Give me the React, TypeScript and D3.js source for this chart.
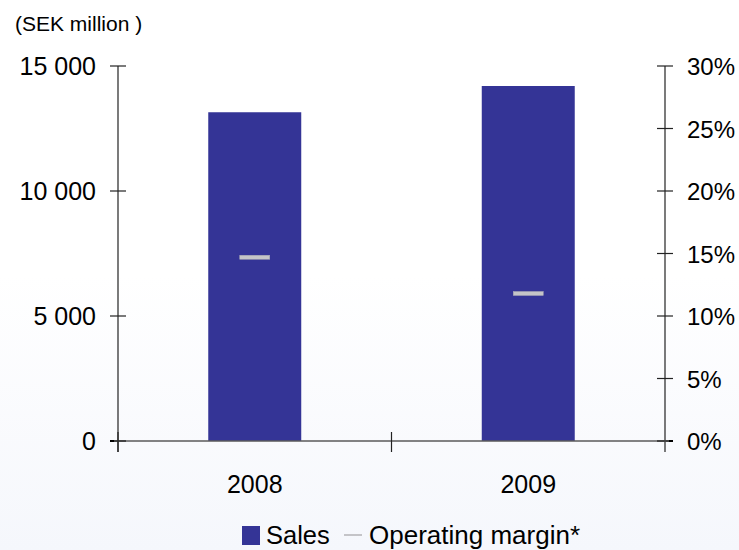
import * as d3 from "d3"

const years = ["2008", "2009"]
const sales = [13150, 14200]
const operatingMargin = [14.7, 11.8]
const salesTicks = [0, 5000, 10000, 15000]
const marginTicks = [0, 5, 10, 15, 20, 25, 30]

const W = 739
const H = 550
const margin = { top: 66, right: 75, bottom: 109, left: 118 }

const fmtSek = (v: number) => d3.format(",")(v).replace(/,/g, " ")

export default function App() {
  const x = d3.scaleBand()
    .domain(years)
    .range([margin.left, W - margin.right + 1])
    .paddingInner(0.66)
    .paddingOuter(0.33)

  const xGroups = d3.scaleBand()
    .domain(years)
    .range([margin.left, W - margin.right + 1])

  const y = d3.scaleLinear()
    .domain([0, 15000])
    .range([H - margin.bottom, margin.top])

  const y2 = d3.scaleLinear()
    .domain([0, 30])
    .range([H - margin.bottom, margin.top])

  const x0 = margin.left
  const x1 = W - margin.right + 1
  const yBase = y(0)
  const font = "Liberation Sans, Arial, sans-serif"

  return (
    <div style={{ position: "absolute", left: 0, top: 0 }}>
      <svg width={W} height={H} style={{ display: "block" }}>
        <defs>
          <linearGradient id="bg" x1="0" y1="0" x2="0" y2="1">
            <stop offset="0.5" stopColor="#ffffff" />
            <stop offset="1" stopColor="#f5f7fc" />
          </linearGradient>
        </defs>
        <rect width={W} height={H} fill="url(#bg)" />

        <text x={15} y={31} fontFamily={font} fontSize={21} fill="#000">(SEK million )</text>

        {/* bars */}
        {years.map((yr, i) => (
          <rect
            key={yr}
            x={x(yr)}
            y={y(sales[i])}
            width={x.bandwidth()}
            height={yBase - y(sales[i])}
            fill="#343496"
          />
        ))}

        {/* operating margin markers */}
        {years.map((yr, i) => {
          const cx = (x(yr) || 0) + x.bandwidth() / 2
          return (
            <rect
              key={"m" + yr}
              x={cx - 15}
              y={y2(operatingMargin[i]) - 2}
              width={30}
              height={4}
              fill="#c4c4c8"
              stroke="#a8a8b4"
              strokeWidth={0.5}
            />
          )
        })}

        {/* left axis */}
        <line x1={x0} x2={x0} y1={y(15000)} y2={yBase + 11} stroke="#222" strokeWidth={1.2} />
        {salesTicks.map((t) => (
          <g key={"l" + t}>
            <line x1={x0 - 8} x2={x0 + 8} y1={y(t)} y2={y(t)} stroke="#222" strokeWidth={1.2} />
            <text x={x0 - 22} y={y(t) + 9} textAnchor="end" fontFamily={font} fontSize={25} fill="#000">
              {fmtSek(t)}
            </text>
          </g>
        ))}
        <line x1={x0 - 8} x2={x0 + 8} y1={yBase} y2={yBase} stroke="#000" strokeWidth={2} />

        {/* right axis */}
        <line x1={x1} x2={x1} y1={y2(30)} y2={yBase + 11} stroke="#222" strokeWidth={1.2} />
        {marginTicks.map((t) => (
          <g key={"r" + t}>
            <line x1={x1 - 8} x2={x1 + 8} y1={y2(t)} y2={y2(t)} stroke="#222" strokeWidth={1.2} />
            <text x={x1 + 22} y={y2(t) + 9} fontFamily={font} fontSize={24} fill="#000">
              {t}%
            </text>
          </g>
        ))}
        <line x1={x1 - 8} x2={x1 + 8} y1={yBase} y2={yBase} stroke="#000" strokeWidth={2} />

        {/* x axis */}
        <line x1={x0 - 4} x2={x1 + 4} y1={yBase} y2={yBase} stroke="#5a5a5a" strokeWidth={1.6} />
        {years.map((yr) => (
          <line
            key={"t" + yr}
            x1={xGroups(yr) || 0}
            x2={xGroups(yr) || 0}
            y1={yBase - 9}
            y2={yBase + 11}
            stroke="#222"
            strokeWidth={1.2}
          />
        ))}
        {years.map((yr) => (
          <text
            key={"xl" + yr}
            x={(xGroups(yr) || 0) + xGroups.bandwidth() / 2}
            y={493}
            textAnchor="middle"
            fontFamily={font}
            fontSize={25}
            fill="#000"
          >
            {yr}
          </text>
        ))}

        {/* legend */}
        <rect x={242} y={526} width={18} height={19} fill="#343496" />
        <text x={266} y={544} fontFamily={font} fontSize={25.5} fill="#000">Sales</text>
        <line x1={344} x2={362} y1={535} y2={535} stroke="#c4c4c8" strokeWidth={2} />
        <text x={369} y={544} fontFamily={font} fontSize={26} fill="#000">Operating margin*</text>
      </svg>
    </div>
  )
}
